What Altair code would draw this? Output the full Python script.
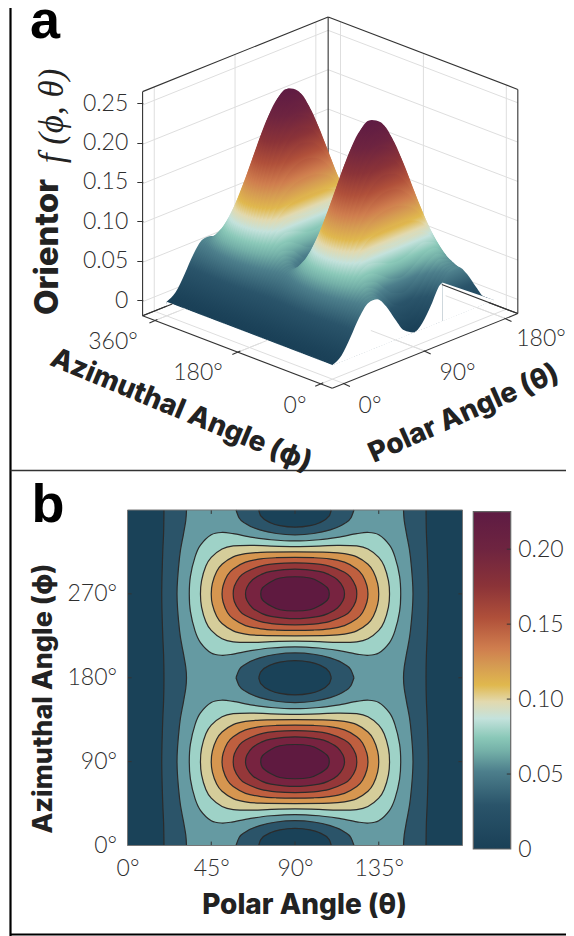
import altair as alt
import pandas as pd

W, H = 558, 928

# ---------- values ----------
theta_nodes = [0, 10, 20, 30, 40, 50, 60, 70, 80, 90]
# f(phi, theta), rows phi = 0,5,...,90 ; columns theta = 0,10,...,90 (read against panel a's axis)
F_00 = [0, .0073, .0258, .0469, .0606, .0606, .0469, .0258, .0073, 0]
F_05 = [0, .0073, .0258, .0470, .0609, .0613, .0480, .0273, .0091, .0019]
F_10 = [0, .0073, .0259, .0474, .0619, .0632, .0511, .0317, .0144, .0076]
F_15 = [0, .0073, .0260, .0479, .0635, .0664, .0563, .0389, .0231, .0168]
F_20 = [0, .0074, .0262, .0487, .0656, .0707, .0633, .0486, .0348, .0293]
F_25 = [0, .0073, .0264, .0497, .0682, .0760, .0720, .0606, .0493, .0447]
F_30 = [0, .0074, .0267, .0508, .0713, .0822, .0820, .0746, .0661, .0625]
F_35 = [0, .0074, .0269, .0520, .0746, .0889, .0932, .0899, .0846, .0823]
F_40 = [0, .0074, .0273, .0533, .0783, .0962, .1050, .1064, .1045, .1033]
F_45 = [0, .0074, .0275, .0547, .0820, .1037, .1172, .1233, .1249, .1250]
F_50 = [0, .0075, .0278, .0561, .0857, .1111, .1294, .1402, .1453, .1467]
F_55 = [0, .0074, .0281, .0574, .0893, .1184, .1412, .1566, .1651, .1678]
F_60 = [0, .0075, .0284, .0586, .0926, .1252, .1524, .1720, .1837, .1875]
F_65 = [0, .0075, .0286, .0597, .0957, .1313, .1624, .1859, .2004, .2054]
F_70 = [0, .0075, .0289, .0607, .0983, .1366, .1711, .1980, .2150, .2208]
F_75 = [0, .0075, .0290, .0615, .1004, .1409, .1781, .2076, .2266, .2333]
F_80 = [0, .0076, .0292, .0620, .1020, .1441, .1833, .2149, .2354, .2425]
F_85 = [0, .0075, .0292, .0624, .1030, .1460, .1864, .2192, .2406, .2481]
F_90 = [0, .0076, .0293, .0625, .1033, .1467, .1875, .2208, .2425, .2500]
F_ROWS = [F_00, F_05, F_10, F_15, F_20, F_25, F_30, F_35, F_40, F_45, F_50, F_55, F_60, F_65, F_70, F_75, F_80, F_85, F_90]

# contour lines of panel b: (theta, phi) on one quarter of a lobe
L3 = [(33.2, 90), (33.8, 71.2), (36.3, 50.3), (39.2, 37.8), (45, 26.6), (50.8, 24.1), (56.8, 25.4), (67.2, 29.3), (77.1, 31.9), (90, 33.2)]
L4 = [(39.2, 90), (39.8, 75.9), (42.1, 60.2), (45, 50.8), (50.8, 41.8), (56.8, 38.5), (67.2, 37.9), (77.1, 38.7), (90, 39.2)]
L5 = [(45, 90), (45.6, 78.7), (47.9, 66), (50.8, 58.2), (56.8, 50.3), (63.4, 46.8), (71.6, 45.4), (90, 45)]
L6 = [(50.8, 90), (51.4, 81), (53.7, 70), (56.8, 63.2), (63.4, 56), (71.6, 52.5), (80, 51.2), (90, 50.8)]
L7 = [(56.8, 90), (57.4, 81.9), (60, 72.5), (63.4, 66.7), (71.6, 60.2), (80, 57.6), (90, 56.8)]
L8 = [(63.4, 90), (64.2, 82.9), (67.2, 74.9), (71.6, 69.5), (77.1, 65.9), (90, 63.4)]
L9 = [(71.6, 90), (72.5, 83.7), (77.1, 76.9), (81.9, 73), (90, 71.6)]
LOBES = [L3, L4, L5, L6, L7, L8, L9]
LOBE_FILLS = ["#9ed2c7", "#d5cd9a", "#d69650", "#bf5f3f", "#953739", "#772340", "#5f1a40"]
# outer contours: (phi, theta) and dips: (theta, half height in phi)
OUT1 = [(0, 19.6), (24.7, 19.4), (47.6, 18.9), (90, 18.4)]
OUT2 = [(0, 31.7), (11.5, 31.3), (26.6, 30), (50, 28), (90, 26.6)]
DIP1 = [(70.5, 0), (71.6, 6.4), (77.1, 13.9), (81.9, 16.8), (90, 18.4)]
DIP2 = [(58.3, 0), (60, 8.6), (63.4, 14.5), (71.6, 21.6), (80, 25.2), (90, 26.6)]
BAND0, BAND1, BAND2 = "#1a4258", "#2b5469", "#659aa2"

CMAP_T = [0, .13, .23, .29, .33, .387, .437, .486, .545, .595, .684, .78, .89, 1]
CMAP_C = ["#1a4057", "#2a546a", "#4d7f8c", "#74b0a8", "#8ac8b8", "#c4e2dc", "#e2d9ae", "#e0b84e",
          "#d59a52", "#cf7d4e", "#b0503a", "#8b3338", "#6e2440", "#5e1b43"]

Z_TICKS = [0, .05, .10, .15, .20, .25]
BAR_TICKS = [0, .05, .10, .15, .20]
ANGLE_A_THETA = [0, 90, 180]
ANGLE_A_PHI = [0, 180, 360]
B_THETA_TICKS = [0, 45, 90, 135]
B_PHI_TICKS = [0, 90, 180, 270]

# projection of panel a (page pixels)
OX, OY = 332.4, 365.0
VTX, VTY = 161.6, -65.0   # 180 deg of theta
VPX, VPY = -165.8, -63.3  # 360 deg of phi
ZC = 786.7                # px per unit f
TMIN, TMAX = -13.0, 193.7
PMIN, PMAX = -25.0, 386.8
ZMIN, ZMAX = -0.018, 0.267

LABEL_FONT = "Lato"
TITLE_FONT = "Inter"
TITLE_SIZE = 28
TICK_SIZE = 23
TXT = "#2e2e2e"
TIT = "#222222"
CONTOUR = "#2b2b2b"
CW = 1.2

SX = alt.Scale(domain=[8, 566], range=[0, W], nice=False, zero=False)
SY = alt.Scale(domain=[8, 936], range=[0, H], nice=False, zero=False)
layers = []


def P(t, p, z=0.0):
    return (OX + t / 180 * VTX + p / 360 * VPX, OY + t / 180 * VTY + p / 360 * VPY - z * ZC)


def X(f="x"):
    return alt.X(f"{f}:Q", scale=SX, axis=None)


def Y(f="y"):
    return alt.Y(f"{f}:Q", scale=SY, axis=None)


def segs(lst, color, width):
    df = pd.DataFrame([{"x": a[0], "y": a[1], "x2": b[0], "y2": b[1]} for a, b in lst])
    return alt.Chart(df).mark_rule(color=color, strokeWidth=width).encode(
        x=X(), y=Y(), x2=alt.X2("x2:Q"), y2=alt.Y2("y2:Q"))


def texts(rows, font, size, weight, color, align="center", angle=0, style="normal", baseline="middle"):
    df = pd.DataFrame([{"x": r[1], "y": r[2], "t": r[0]} for r in rows])
    return alt.Chart(df).mark_text(font=font, fontSize=size, fontWeight=weight, color=color, align=align,
                                   baseline=baseline, angle=angle, fontStyle=style).encode(
        x=X(), y=Y(), text="t:N")


def row_for(phi):
    i = (phi // 5) % 36
    if i > 18:
        i = 36 - i
    r = F_ROWS[i]
    return r + r[-2::-1]


FULL_T = theta_nodes + [180 - t for t in theta_nodes[-2::-1]]

# ---------- frame ----------
layers.append(segs([((10.5, 8), (10.5, 936)), ((10.5, 934.5), (566, 934.5))], "#000000", 2.2))
layers.append(segs([((10.5, 470.5), (566, 470.5))], "#333333", 1.6))

# ---------- panel a: walls and floor ----------
GRID = "#dedede"
grid = []
for z in Z_TICKS:
    grid.append((P(TMIN, PMAX, z), P(TMAX, PMAX, z)))
    grid.append((P(TMAX, PMAX, z), P(TMAX, PMIN, z)))
for t in ANGLE_A_THETA:
    grid.append((P(t, PMAX, ZMIN), P(t, PMAX, ZMAX)))
    grid.append((P(t, PMIN, ZMIN), P(t, PMAX, ZMIN)))
for p in ANGLE_A_PHI:
    grid.append((P(TMAX, p, ZMIN), P(TMAX, p, ZMAX)))
    grid.append((P(TMIN, p, ZMIN), P(TMAX, p, ZMIN)))
layers.append(segs(grid, GRID, 1))
back = [
    (P(TMIN, PMAX, ZMIN), P(TMIN, PMAX, ZMAX)),
    (P(TMAX, PMIN, ZMIN), P(TMAX, PMIN, ZMAX)),
    (P(TMAX, PMAX, ZMIN), P(TMAX, PMAX, ZMAX)),
    (P(TMIN, PMAX, ZMAX), P(TMAX, PMAX, ZMAX)),
    (P(TMAX, PMAX, ZMAX), P(TMAX, PMIN, ZMAX)),
    (P(TMIN, PMAX, ZMIN), P(TMAX, PMAX, ZMIN)),
    (P(TMAX, PMAX, ZMIN), P(TMAX, PMIN, ZMIN)),
]
layers.append(segs(back, "#333333", 1.1))

# ---------- panel a: surface painted back to front ----------
stops = [alt.GradientStop(offset=t, color=c) for t, c in zip(CMAP_T, CMAP_C)]
EXT = 2.0
for phi in range(360, -5, -5):
    vals = row_for(phi)
    ext = EXT if phi else 0.0
    rows = []
    for t, f in zip(FULL_T, vals):
        x, y0 = P(t, phi)
        rows.append({"x": x, "y": y0 - f * ZC, "y2": y0 + ext})
    ymin = min(r["y"] for r in rows)
    y00 = P(0, phi)[1]
    hh = y00 + ext - ymin
    a = VTY / ZC
    b = -hh / ZC
    v1 = (y00 - ymin) / hh
    k = 0.25 / (a * a + b * b)
    grad = alt.Gradient(gradient="linear", stops=stops, x1=0, y1=v1, x2=k * a, y2=v1 + k * b)
    layers.append(alt.Chart(pd.DataFrame(rows)).mark_area(color=grad, interpolate="monotone", strokeWidth=0).encode(
        x=X(), y=Y(), y2=alt.Y2("y2:Q")))

# white under the front edge and under the two straight edges of the surface
front = row_for(0)
m1 = []
for t, f in zip(FULL_T, front):
    if t <= 120:
        x, y0 = P(t, 0)
        m1.append({"x": x, "y": y0 - f * ZC, "y2": y0 + 0.6})
xc = 442.3
yc = OY + (xc - OX) * VTY / VTX
m1.append({"x": xc, "y": 283.0, "y2": yc + 0.6})
layers.append(alt.Chart(pd.DataFrame(m1)).mark_area(color="#ffffff", interpolate="monotone", strokeWidth=0).encode(
    x=X(), y=Y(), y2=alt.Y2("y2:Q")))
ex, ey = P(180, 0)
m2 = [{"x": xc, "y": 283.0 - 0.4, "y2": yc + 0.6}, {"x": ex, "y": ey, "y2": ey + 0.6}]
layers.append(alt.Chart(pd.DataFrame(m2)).mark_area(color="#ffffff", strokeWidth=0).encode(
    x=X(), y=Y(), y2=alt.Y2("y2:Q")))
m3 = []
for p in (360, 0):
    x, y0 = P(0, p)
    m3.append({"x": x, "y": y0, "y2": y0 + 5})
layers.append(alt.Chart(pd.DataFrame(m3)).mark_area(color="#ffffff", strokeWidth=0).encode(
    x=X(), y=Y(), y2=alt.Y2("y2:Q")))
# floor lines seen through the white regions
layers.append(segs([(P(90, PMIN, ZMIN), P(90, 92, ZMIN)), (P(180, PMIN, ZMIN), P(180, 105, ZMIN)),
                    (P(TMIN, 180, ZMIN), P(20, 180, ZMIN)), (P(TMIN, 360, ZMIN), P(20, 360, ZMIN))], GRID, 1))

# front edges and ticks
fr = [(P(TMIN, PMIN, ZMIN), P(TMIN, PMAX, ZMIN)), (P(TMIN, PMIN, ZMIN), P(TMAX, PMIN, ZMIN)),
      (P(TMAX, 140, ZMIN), P(TMAX, PMIN, ZMIN)), (P(TMIN, PMAX, ZMIN), P(20, PMAX, ZMIN))]
for p in ANGLE_A_PHI:
    bx_, by_ = P(TMIN, p, ZMIN)
    fr.append(((bx_ - 5.5, by_ + 2.4), (bx_ + 2.5, by_ - 1.1)))
for t in ANGLE_A_THETA:
    bx_, by_ = P(t, PMIN, ZMIN)
    fr.append(((bx_ - 1, by_ - 0.4), (bx_ + 6, by_ + 3)))
layers.append(segs(fr, "#333333", 1.1))

# z axis of panel a
layers.append(alt.Chart(pd.DataFrame({"v": Z_TICKS})).mark_point(opacity=0).encode(
    x=alt.value(134.8),
    y=alt.Y("v:Q", scale=alt.Scale(domain=[0, .25], range=[292, 95.3], nice=False, zero=False),
            axis=alt.Axis(orient="left", offset=-134.8, values=Z_TICKS, domain=False, grid=False, title=None,
                          tickColor="#333333", tickSize=6, tickWidth=1, labelFont=LABEL_FONT, labelFontSize=TICK_SIZE,
                          labelFontWeight=300, labelColor=TXT, labelPadding=9, labelFlush=False,
                          labelExpr="datum.value==0?'0':format(datum.value,'.2f')"))))

# panel a text
layers.append(texts([("a", 45, 38)], "Liberation Sans", 54, "bold", "#000000", baseline="alphabetic"))
layers.append(texts([("360°", 113, 342), ("180°", 198, 373), ("0°", 295, 406), ("0°", 370, 406), ("90°", 457.5, 373), ("180°", 541, 339)],
                    LABEL_FONT, TICK_SIZE, 300, TXT))
layers.append(texts([("Orientor", 48, 247)], TITLE_FONT, 33, 800, TIT, angle=270))
layers.append(texts([("f (ϕ, θ)", 52, 116)], "Liberation Serif", 35, "normal", TIT, angle=270, style="italic"))
layers.append(texts([("Azimuthal Angle (ϕ)", 181, 411)], TITLE_FONT, TITLE_SIZE, 800, TIT, angle=22.5))
layers.append(texts([("Polar Angle (θ)", 464, 414)], TITLE_FONT, TITLE_SIZE, 800, TIT, angle=336))

# ---------- panel b ----------
BX = alt.Scale(domain=[0, 180], range=[119.5, 454.5], nice=False, zero=False)
BY = alt.Scale(domain=[0, 360], range=[837.5, 502], nice=False, zero=False)


def bx(f):
    return alt.X(f"{f}:Q", scale=BX, axis=None)


def by(f):
    return alt.Y(f"{f}:Q", scale=BY, axis=None)


layers.append(alt.Chart(pd.DataFrame({"a": [0], "a2": [180], "b": [0], "b2": [360]})).mark_rect(color=BAND0).encode(
    x=alt.X("a:Q", scale=BX, axis=alt.Axis(
        orient="bottom", offset=-(H - 837.5), values=B_THETA_TICKS, labelExpr="datum.value+'°'", ticks=False, domain=False,
        grid=False, labelFont=LABEL_FONT, labelFontSize=TICK_SIZE, labelFontWeight=300, labelColor=TXT, labelPadding=12, zindex=1,
        labelFlush=False, labelBound=False,
        title="Polar Angle (θ)", titleFont=TITLE_FONT, titleFontSize=TITLE_SIZE, titleFontWeight=800, titleColor=TIT,
        titleX=296, titleY=60, titleBaseline="middle", titleAlign="center")),
    x2=alt.X2("a2:Q"),
    y=alt.Y("b:Q", scale=BY, axis=alt.Axis(
        orient="left", offset=-119.5, values=B_PHI_TICKS, labelExpr="datum.value+'°'", ticks=False, domain=False,
        grid=False, labelFont=LABEL_FONT, labelFontSize=TICK_SIZE, labelFontWeight=300, labelColor=TXT, labelPadding=11, zindex=1,
        labelFlush=False, labelBound=False,
        title="Azimuthal Angle (ϕ)", titleFont=TITLE_FONT, titleFontSize=27, titleFontWeight=800, titleColor=TIT,
        titleX=-84, titleY=690, titleBaseline="middle", titleAlign="center", titleAngle=270)),
    y2=alt.Y2("b2:Q")))


def mirror_outer(nodes):
    out = []
    for c in (0, 180):
        q = [(c + p, t) for p, t in nodes]
        q += [(c + 180 - p, t) for p, t in reversed(nodes[:-1])]
        out += q[:-1] if c == 0 else q
    return out


for nodes, fill in ((OUT1, BAND1), (OUT2, BAND2)):
    m = mirror_outer(nodes)
    df = pd.DataFrame([{"p": p, "lo": t, "hi": 180 - t} for p, t in m])
    layers.append(alt.Chart(df).mark_area(color=fill, orient="horizontal", interpolate="cardinal", strokeWidth=0).encode(
        y=by("p"), x=bx("lo"), x2=alt.X2("hi:Q")))
    for side in ("lo", "hi"):
        layers.append(alt.Chart(df).mark_line(color=CONTOUR, strokeWidth=CW, interpolate="cardinal").encode(
            x=bx(side), y=by("p"), order=alt.Order("p:Q")))

for nodes, fill in ((DIP2, BAND1), (DIP1, BAND0)):
    both = nodes + [(180 - t, d) for t, d in reversed(nodes[:-1])]
    for c in (0, 180, 360):
        df = pd.DataFrame([{"t": t, "lo": max(c - d, 0), "hi": min(c + d, 360)} for t, d in both])
        layers.append(alt.Chart(df).mark_area(color=fill, interpolate="monotone", strokeWidth=0).encode(
            x=bx("t"), y=by("lo"), y2=alt.Y2("hi:Q")))
        for side in ("lo", "hi"):
            if (c == 0 and side == "lo") or (c == 360 and side == "hi"):
                continue
            layers.append(alt.Chart(df).mark_line(color=CONTOUR, strokeWidth=CW, interpolate="monotone").encode(
                x=bx("t"), y=by(side)))

for c in (90, 270):
    for nodes, fill in zip(LOBES, LOBE_FILLS):
        lower = [(t, c - 90 + p) for t, p in nodes]
        right = [(180 - t, c - 90 + p) for t, p in reversed(nodes[:-1])]
        upper = [(180 - t, c + 90 - p) for t, p in nodes[1:]]
        left = [(t, c + 90 - p) for t, p in reversed(nodes[1:-1])]
        loop = lower + right + upper + left
        df = pd.DataFrame([{"i": i, "t": t, "p": p} for i, (t, p) in enumerate(loop)])
        layers.append(alt.Chart(df).mark_line(fill=fill, stroke=CONTOUR, strokeWidth=CW, interpolate="cardinal-closed").encode(
            x=bx("t"), y=by("p"), order=alt.Order("i:Q")))

# inward ticks and outline
tick_rows = []
for t in B_THETA_TICKS[1:]:
    tick_rows += [{"a": t, "a2": t, "b": 0, "b2": 4.2}, {"a": t, "a2": t, "b": 360, "b2": 355.8}]
for p in B_PHI_TICKS[1:]:
    tick_rows += [{"a": 0, "a2": 2.2, "b": p, "b2": p}, {"a": 180, "a2": 177.8, "b": p, "b2": p}]
layers.append(alt.Chart(pd.DataFrame(tick_rows)).mark_rule(color="#333333", strokeWidth=1).encode(
    x=bx("a"), x2=alt.X2("a2:Q"), y=by("b"), y2=alt.Y2("b2:Q")))
layers.append(alt.Chart(pd.DataFrame({"a": [0], "a2": [180], "b": [0], "b2": [360]})).mark_rect(
    filled=False, stroke="#777777", strokeWidth=1).encode(x=bx("a"), x2=alt.X2("a2:Q"), y=by("b"), y2=alt.Y2("b2:Q")))

# colour bar
CY = alt.Scale(domain=[0, .225], range=[841, 503.7], nice=False, zero=False)
bar_grad = alt.Gradient(gradient="linear", stops=stops, x1=0, y1=1, x2=0, y2=0)
layers.append(alt.Chart(pd.DataFrame({"xa": [473.3], "xb": [510.7], "b": [0], "b2": [.225]})).mark_rect(
    color=bar_grad, stroke="#666666", strokeWidth=1.2).encode(
    x=X("xa"), x2=alt.X2("xb:Q"),
    y=alt.Y("b:Q", scale=CY, axis=alt.Axis(
        orient="right", offset=-(W - 502.7), values=BAR_TICKS, ticks=False, domain=False, grid=False, title=None,
        labelFont=LABEL_FONT, labelFontSize=TICK_SIZE, labelFontWeight=300, labelColor=TXT, labelPadding=7, zindex=1,
        labelFlush=False, labelBound=False,
        labelExpr="datum.value==0?'0':format(datum.value,'.2f')")),
    y2=alt.Y2("b2:Q")))
layers.append(alt.Chart(pd.DataFrame({"v": BAR_TICKS[1:], "xa": [506.8] * 4, "xb": [510.7] * 4})).mark_rule(
    color="#333333", strokeWidth=1).encode(x=X("xa"), x2=alt.X2("xb:Q"), y=alt.Y("v:Q", scale=CY, axis=None)))

layers.append(texts([("b", 48, 522)], "Liberation Sans", 54, "bold", "#000000", baseline="alphabetic"))

chart = alt.layer(*layers).resolve_scale(x="independent", y="independent").properties(
    width=W, height=H, padding=0, autosize=alt.AutoSizeParams(type="none")
).configure_view(strokeWidth=0)

chart.save("out.html", embed_options={"renderer": "svg", "actions": False})
